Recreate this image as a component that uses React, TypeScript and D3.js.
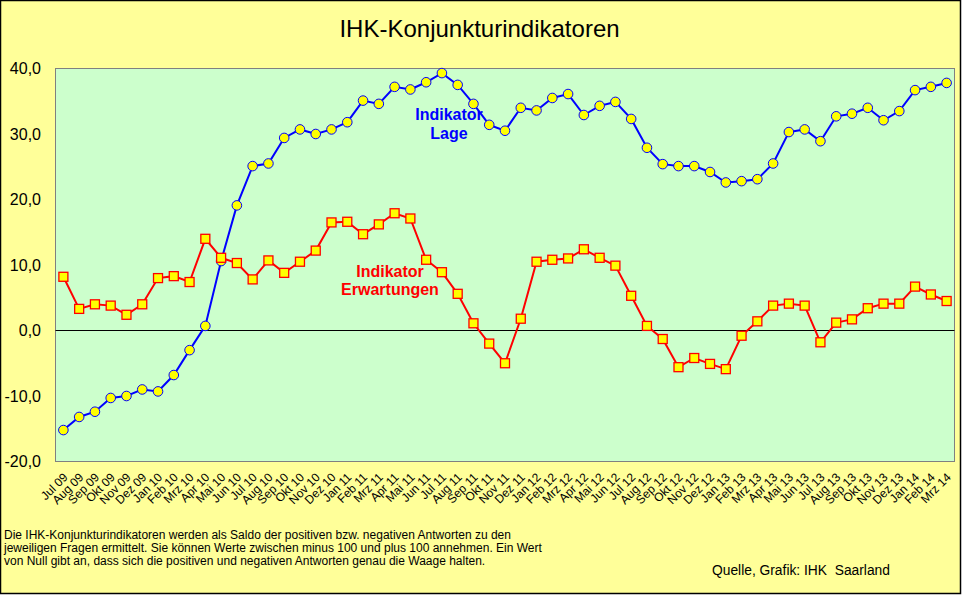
import React from "react";
import * as d3 from "d3";

const months = [
  "Jul 09","Aug 09","Sep 09","Okt 09","Nov 09","Dez 09",
  "Jan 10","Feb 10","Mrz 10","Apr 10","Mai 10","Jun 10","Jul 10","Aug 10","Sep 10","Okt 10","Nov 10","Dez 10",
  "Jan 11","Feb 11","Mrz 11","Apr 11","Mai 11","Jun 11","Jul 11","Aug 11","Sep 11","Okt 11","Nov 11","Dez 11",
  "Jan 12","Feb 12","Mrz 12","Apr 12","Mai 12","Jun 12","Jul 12","Aug 12","Sep 12","Okt 12","Nov 12","Dez 12",
  "Jan 13","Feb 13","Mrz 13","Apr 13","Mai 13","Jun 13","Jul 13","Aug 13","Sep 13","Okt 13","Nov 13","Dez 13",
  "Jan 14","Feb 14","Mrz 14",
];

const lage = [
  -15.2, -13.2, -12.4, -10.3, -10.0, -9.0,
  -9.3, -6.8, -3.0, 0.7, 10.6, 19.1, 25.1, 25.5, 29.4, 30.7, 30.0, 30.7,
  31.8, 35.1, 34.6, 37.2, 36.8, 37.9, 39.3, 37.5, 34.6, 31.4, 30.5, 34.0,
  33.6, 35.5, 36.1, 32.9, 34.3, 34.9, 32.3, 27.9, 25.4, 25.1, 25.1, 24.2,
  22.6, 22.8, 23.1, 25.5, 30.3, 30.7, 28.9, 32.7, 33.1, 34.0, 32.1, 33.5,
  36.7, 37.2, 37.8,
];

const erwartungen = [
  8.2, 3.3, 4.0, 3.8, 2.4, 4.0,
  8.0, 8.3, 7.4, 14.0, 11.1, 10.3, 7.8, 10.7, 8.8, 10.5, 12.2, 16.5,
  16.6, 14.7, 16.2, 17.9, 17.1, 10.8, 8.9, 5.6, 1.1, -2.0, -5.0, 1.8,
  10.5, 10.8, 11.0, 12.4, 11.1, 9.9, 5.3, 0.7, -1.3, -5.6, -4.2, -5.1,
  -5.9, -0.8, 1.4, 3.8, 4.1, 3.8, -1.8, 1.2, 1.7, 3.4, 4.1, 4.1,
  6.7, 5.5, 4.5,
];

const yTicks = [-20, -10, 0, 10, 20, 30, 40];

const title = "IHK-Konjunkturindikatoren";
const footnote = [
  "Die IHK-Konjunkturindikatoren werden als Saldo der positiven bzw. negativen Antworten zu den",
  "jeweiligen Fragen ermittelt. Sie können Werte zwischen minus 100 und plus 100 annehmen. Ein Wert",
  "von Null gibt an, dass sich die positiven und negativen Antworten genau die Waage halten.",
];
const source = "Quelle, Grafik: IHK  Saarland";

const W = 962;
const H = 595;
const FONT = "'Liberation Sans', Arial, sans-serif";

export default function App() {
  const plot = { left: 55.5, top: 68.5, right: 954.5, bottom: 461.5 };
  const x = d3.scaleBand<string>().domain(months).range([plot.left, plot.right]).padding(0);
  const y = d3.scaleLinear().domain([-20, 40]).range([plot.bottom, plot.top]);
  const cx = (m: string) => (x(m) as number) + x.bandwidth() / 2;

  const line = d3
    .line<number>()
    .x((_, i) => cx(months[i]))
    .y((d) => y(d));

  const fmt = (v: number) => d3.format(".1f")(v).replace(".", ",").replace("−", "-");

  return (
    <div style={{ position: "absolute", left: 0, top: 0 }}>
      <svg width={W} height={H} style={{ display: "block" }} fontFamily={FONT}>
        <rect x={0.5} y={0.5} width={960} height={593} fill="#FFFF99" stroke="#000" strokeWidth={1.5} />
        <text x={479.5} y={37} textAnchor="middle" fontSize={24} fill="#000">
          {title}
        </text>
        <rect
          x={plot.left}
          y={plot.top}
          width={plot.right - plot.left}
          height={plot.bottom - plot.top}
          fill="#CCFFCC"
          stroke="#808080"
          strokeWidth={1}
        />
        <line x1={plot.left} x2={plot.right} y1={y(0)} y2={y(0)} stroke="#000" strokeWidth={1} />
        {yTicks.map((t) => (
          <text key={t} x={41} y={y(t)} dy="0.36em" textAnchor="end" fontSize={16} fill="#000">
            {fmt(t)}
          </text>
        ))}
        {months.map((m) => (
          <text
            key={m}
            transform={`translate(${cx(m) + 5},${478}) rotate(-45)`}
            textAnchor="end"
            fontSize={12}
            fill="#000"
          >
            {m}
          </text>
        ))}
        <path d={line(lage) || ""} fill="none" stroke="#0000FF" strokeWidth={2} />
        {lage.map((v, i) => (
          <circle key={"l" + i} cx={cx(months[i])} cy={y(v)} r={4.8} fill="#FFFF00" stroke="#0000FF" strokeWidth={1} />
        ))}
        <path d={line(erwartungen) || ""} fill="none" stroke="#FF0000" strokeWidth={2} />
        {erwartungen.map((v, i) => (
          <rect
            key={"e" + i}
            x={cx(months[i]) - 4.5}
            y={y(v) - 4.5}
            width={9}
            height={9}
            fill="#FFFF00"
            stroke="#FF0000"
            strokeWidth={1.3}
          />
        ))}
        <g fontSize={16} fontWeight="bold" textAnchor="middle">
          <text x={449} y={120} fill="#0000FF">Indikator</text>
          <text x={449} y={138.5} fill="#0000FF">Lage</text>
          <text x={390} y={276.5} fill="#FF0000">Indikator</text>
          <text x={390} y={295} fill="#FF0000">Erwartungen</text>
        </g>
        <g fontSize={12} fill="#000">
          {footnote.map((l, i) => (
            <text key={i} x={4} y={539 + i * 13}>
              {l}
            </text>
          ))}
        </g>
        <text x={712} y={575} fontSize={13.8} fill="#000" style={{ whiteSpace: "pre" }}>
          {source}
        </text>
      </svg>
    </div>
  );
}
